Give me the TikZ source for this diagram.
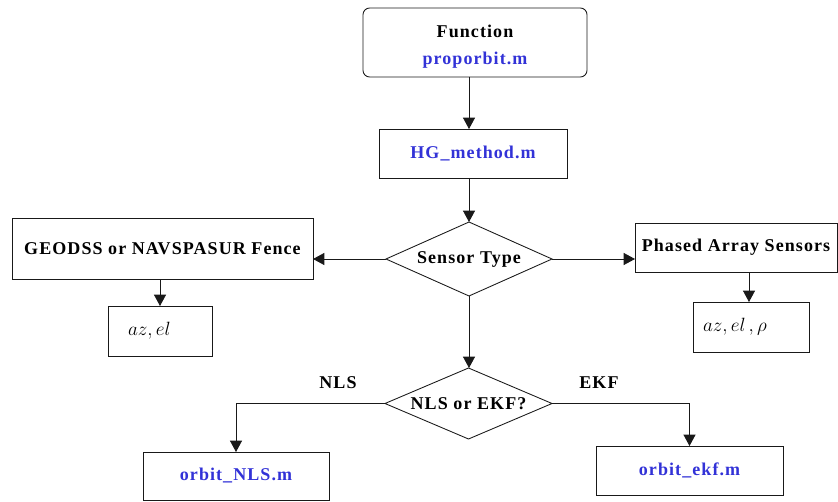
\documentclass[tikz,border=0pt]{standalone}
\usepackage{fontspec}
\setmainfont{Liberation Serif}[LetterSpace=6]
\usetikzlibrary{shapes.geometric,arrows.meta}
\newcommand{\pxu}{*0.75pt}
\definecolor{fileblue}{RGB}{50,50,215}
\definecolor{edgegray}{RGB}{25,25,25}
\begin{document}
\begin{tikzpicture}[x=0.75pt,y=-0.75pt,
  font=\fontsize{13.5}{19}\selectfont\bfseries,
  every node/.style={inner sep=0pt, outer sep=0pt},
  box/.style={draw=edgegray, line width=0.65pt, rectangle},
  rbox/.style={box, rounded corners=5pt},
  decision/.style={draw=edgegray, line width=0.65pt, diamond, shape aspect=2.2},
  file/.style={text=fileblue},
  mathbox/.style={box, align=left},
  arr/.style={draw=edgegray, line width=0.65pt,
    -{Triangle[width=9pt,length=8.5pt]}},
  lbl/.style={}]
\useasboundingbox (0,0) rectangle (838,502);

% top of the chain (the strut pushes the two lines a little lower)
\node[rbox, minimum width=224\pxu, minimum height=69\pxu, align=center]
  (func) at (475,42.5) {\rule{0pt}{16pt}Function\\[1pt]{\color{fileblue}proporbit.m}};
\node[box, file, minimum width=188\pxu, minimum height=49\pxu]
  (hg) at (473,153.5) {HG\_method.m};

% sensor decision and its two branches
\node[decision, minimum width=166\pxu, minimum height=74\pxu]
  (sensor) at (469,259) {Sensor Type};
\node[box, minimum width=301\pxu, minimum height=61\pxu]
  (geo) at (162.5,248.5) {GEODSS or NAVSPASUR Fence};
\node[mathbox, inner xsep=20\pxu, text width=64\pxu, minimum height=50\pxu,
  font=\fontsize{15.5}{17}\selectfont]
  (azel) at (160,331) {$az,el$};
\node[box, minimum width=202\pxu, minimum height=49\pxu]
  (phased) at (736,247.5) {Phased Array Sensors};
\node[mathbox, inner xsep=10\pxu, text width=96\pxu, minimum height=50\pxu,
  font=\fontsize{15.5}{17}\selectfont]
  (rho) at (751,327) {$az,el\,,\rho$};

% estimator decision
\node[decision, minimum width=167\pxu, minimum height=71\pxu]
  (nls) at (468.5,403.5) {NLS or EKF?};
\node[box, file, minimum width=186\pxu, minimum height=48\pxu]
  (nlsbox) at (236,476) {orbit\_NLS.m};
\node[box, file, minimum width=187\pxu, minimum height=49\pxu]
  (ekfbox) at (689.5,470.5) {orbit\_ekf.m};
\node[lbl] (nlslbl) at (338,383) {NLS};
\node[lbl] (ekflbl) at (599,383) {EKF};

% connectors
\draw[arr] (func.south -| sensor.north) -- (hg.north -| sensor.north);
\draw[arr] (hg.south -| sensor.north) -- (sensor.north);
\draw[arr] (sensor.west) -- (sensor.west -| geo.east);
\draw[arr] (sensor.east) -- (sensor.east -| phased.west);
\draw[arr] (azel.north |- geo.south) -- (azel.north);
\draw[arr] ([xshift=-2\pxu]rho.north |- phased.south) -- ([xshift=-2\pxu]rho.north);
\draw[arr] (sensor.south) -- (sensor.south |- nls.north);
\draw[arr] (nls.west) -| (nlsbox.north);
\draw[arr] (nls.east) -| (ekfbox.north);
\end{tikzpicture}
\end{document}
